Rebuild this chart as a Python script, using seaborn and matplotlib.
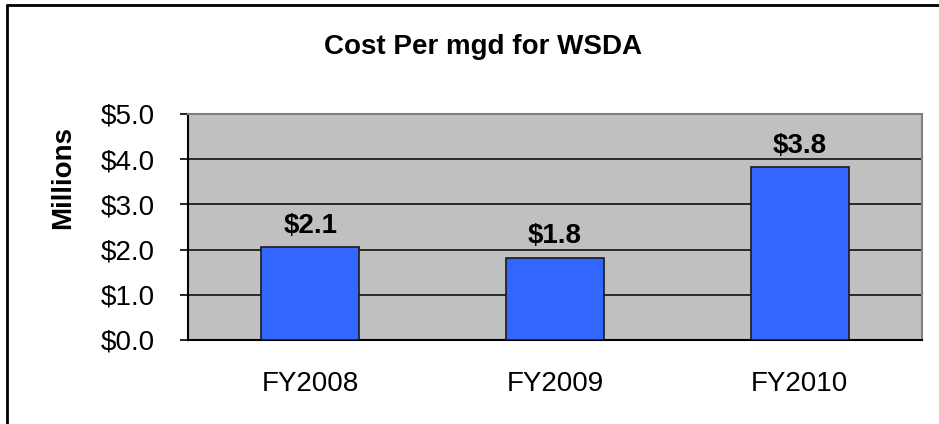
import matplotlib
matplotlib.use("Agg")
import matplotlib.pyplot as plt
import seaborn as sns
import pandas as pd
from matplotlib.lines import Line2D

# chart data
years = ["FY2008", "FY2009", "FY2010"]
cost_millions = [2.06, 1.82, 3.83]
bar_labels = ["$2.1", "$1.8", "$3.8"]
y_ticks = [0, 1, 2, 3, 4, 5]
y_tick_labels = ["$0.0", "$1.0", "$2.0", "$3.0", "$4.0", "$5.0"]

sns.set_style("white")
plt.rcParams['font.family'] = ['Liberation Sans', 'DejaVu Sans']
plt.rcParams['text.color'] = 'black'
plt.rcParams['axes.labelcolor'] = 'black'
plt.rcParams['xtick.color'] = 'black'
plt.rcParams['ytick.color'] = 'black'

df = pd.DataFrame({"year": years, "cost": cost_millions})

fig = plt.figure(figsize=(9.39, 4.24), dpi=100)
ax = fig.add_axes([188/939, 1 - 340/424, (922-188)/939, (340-114)/424])
ax.set_facecolor("#C0C0C0")

sns.barplot(data=df, x="year", y="cost", color="#3366FF", saturation=1,
            width=0.4, edgecolor="#1a1a1a", linewidth=1.2, ax=ax, zorder=3)

# grid lines
for v in y_ticks[1:-1]:
    ax.axhline(v, color="black", linewidth=1.1, zorder=1)

ax.set_ylim(0, 5)
ax.set_xlim(-0.5, 2.5)
ax.set_yticks(y_ticks)
ax.set_yticklabels(y_tick_labels, fontsize=20)
ax.set_xticks([0, 1, 2])
ax.set_xticklabels(years, fontsize=20)
ax.set_xticks([-0.5, 0.5, 1.5, 2.5], minor=True)
ax.tick_params(axis="x", which="major", length=0, pad=22)
ax.tick_params(axis="x", which="minor", length=6, width=1.2, color="black", direction="out")
ax.tick_params(axis="y", length=6, width=1.2, color="black", direction="out", pad=18, left=True)
ax.set_xlabel("")
ax.set_ylabel("Millions", fontsize=20, fontweight="bold")
ax.yaxis.set_label_coords(-0.153, 0.717)

for side in ["left", "bottom"]:
    ax.spines[side].set_color("black")
    ax.spines[side].set_linewidth(1.5)
for side in ["top", "right"]:
    ax.spines[side].set_color("#808080")
    ax.spines[side].set_linewidth(1.5)

ax.bar_label(ax.containers[0], labels=bar_labels, padding=6, fontsize=20, fontweight="bold")

fig.text(483/939, 1 - 54/424, "Cost Per mgd for WSDA", ha="center", va="baseline",
         fontsize=20, fontweight="bold")

# outer frame (left and top edges visible)
fig.add_artist(Line2D([7/939, 7/939], [0, 1 - 5/424], transform=fig.transFigure, color="black", linewidth=2))
fig.add_artist(Line2D([7/939, 1], [1 - 5/424, 1 - 5/424], transform=fig.transFigure, color="black", linewidth=2))

fig.savefig("out.png", dpi=100)
